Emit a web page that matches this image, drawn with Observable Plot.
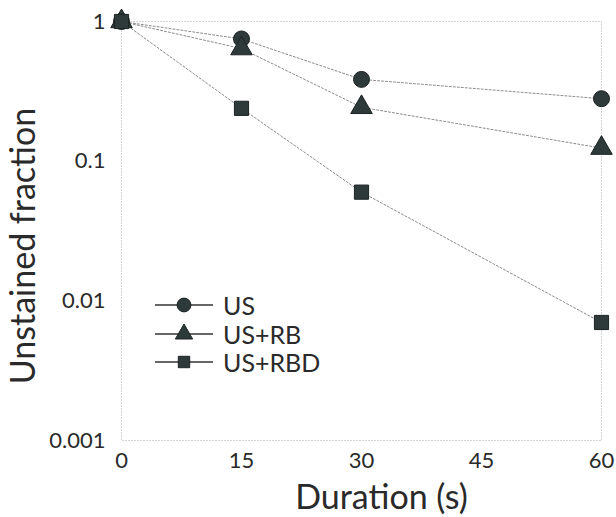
<!DOCTYPE html>
<html><head><meta charset="utf-8">
<script src="https://cdn.jsdelivr.net/npm/d3@7"></script>
<script src="https://cdn.jsdelivr.net/npm/@observablehq/plot@0.6"></script>
<style>
body{margin:0;background:#fff;font-family:Lato,"Open Sans",sans-serif;}
#wrap{position:relative;width:616px;height:517px;}
#legend{position:absolute;left:153px;top:291px;font-size:25px;color:#2a2a2a;}
.row{display:flex;align-items:center;height:28.5px;line-height:26px;}
.row span{line-height:26px;display:inline-block;height:26px;}
.row svg{margin-right:8px;}
</style></head>
<body><div id="wrap"><div id="legend"></div></div>
<script>
const durations = [0, 15, 30, 60];
const seriesNames = ["US", "US+RB", "US+RBD"];
const seriesSymbols = ["circle", "triangle", "square"];
const valuesUS = [1, 0.75, 0.385, 0.28];
const valuesUSRB = [1, 0.64, 0.243, 0.124];
const valuesUSRBD = [1, 0.239, 0.060, 0.0070];
const xTicks = [0, 15, 30, 45, 60];
const yTicks = [1, 0.1, 0.01, 0.001];
const yTickLabels = ["1", "0.1", "0.01", "0.001"];

const allValues = [valuesUS, valuesUSRB, valuesUSRBD];
const data = [];
seriesNames.forEach((s, i) => durations.forEach((d, j) => data.push({series: s, symbol: seriesSymbols[i], x: d, y: allValues[i][j]})));

const markFill = "#2e3a3a";
const markStroke = "#1c2222";

const plot = Plot.plot({
  width: 616, height: 517,
  marginLeft: 121, marginRight: 15, marginTop: 21, marginBottom: 77,
  style: {fontFamily: "Lato, 'Open Sans', sans-serif", fontSize: "22px", color: "#2a2a2a", background: "#fff"},
  x: {domain: [0, 60], ticks: xTicks, tickSize: 0, tickPadding: 12, label: null},
  y: {type: "log", domain: [0.001, 1], ticks: yTicks, tickSize: 0, tickPadding: 16,
      tickFormat: v => yTickLabels[yTicks.indexOf(v)] ?? "", label: null},
  marks: [
    Plot.frame({stroke: "#aaa", strokeDasharray: "1,2", strokeWidth: 1}),
    Plot.line(data, {x: "x", y: "y", z: "series", stroke: "#8a8a8a", strokeWidth: 1, strokeDasharray: "2,2"}),
    Plot.dot(data, {x: "x", y: "y", symbol: "symbol", r: 8, fill: markFill, stroke: markStroke, strokeWidth: 1}),
    Plot.text(["Unstained fraction"], {frameAnchor: "left", textAnchor: "middle", lineAnchor: "middle", rotate: -90, dx: -97, dy: 15, fontSize: 34, fill: "#2a2a2a"}),
    Plot.text(["Duration (s)"], {frameAnchor: "bottom", lineAnchor: "middle", dx: 20, dy: 58, fontSize: 34, fill: "#2a2a2a"})
  ]
});
plot.style.position = "absolute";
plot.style.left = "0"; plot.style.top = "0";
const wrap = document.getElementById("wrap");
wrap.insertBefore(plot, wrap.firstChild);

const leg = document.getElementById("legend");
const symPaths = {
  circle: d3.symbol(d3.symbolCircle, 150)(),
  triangle: d3.symbol(d3.symbolTriangle, 130)(),
  square: d3.symbol(d3.symbolSquare, 130)()
};
seriesNames.forEach((s, i) => {
  const row = document.createElement("div");
  row.className = "row";
  row.innerHTML = `<svg width="62" height="24"><line x1="2" x2="60" y1="12" y2="12" stroke="#333" stroke-width="1.5"/><path transform="translate(31,12)" d="${symPaths[seriesSymbols[i]]}" fill="${markFill}" stroke="${markStroke}"/></svg><span>${s}</span>`;
  leg.appendChild(row);
});
</script></body></html>
